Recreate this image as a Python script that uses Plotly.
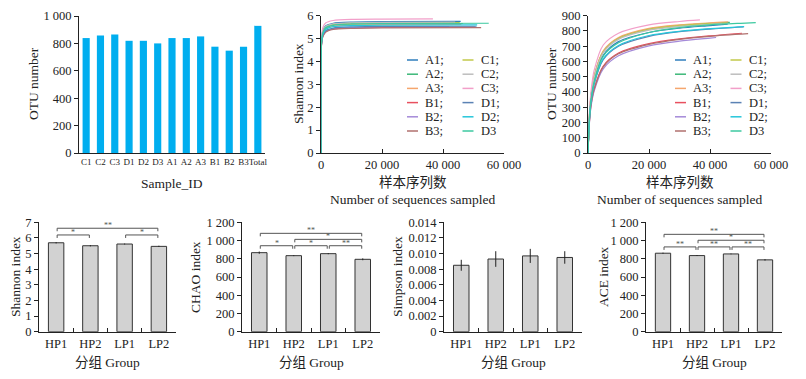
import plotly.graph_objects as go

# ---------------- data ----------------
sample_ids = ['C1', 'C2', 'C3', 'D1', 'D2', 'D3', 'A1', 'A2', 'A3', 'B1', 'B2', 'B3', 'Total']
otu_counts = [839, 858, 865, 819, 819, 800, 839, 839, 851, 776, 747, 776, 928]

curve_names = ['A1', 'A2', 'A3', 'B1', 'B2', 'B3', 'C1', 'C2', 'C3', 'D1', 'D2', 'D3']
curve_colors = ['#2f7ebc', '#3cb878', '#f5a66d', '#e8505f', '#a58ad8', '#b0706e',
                '#c2c84a', '#bdbdbd', '#f29fc9', '#5b82b4', '#26c6da', '#3cc9a0']

# OTU rarefaction curves (sequences sampled, OTU number)
otu_x = [
    [0, 500, 1000, 2000, 5000, 10000, 20000, 30000, 40000, 45800],
    [0, 500, 1000, 2000, 5000, 10000, 20000, 30000, 40000, 46500],
    [0, 500, 1000, 2000, 5000, 10000, 20000, 30000, 40000, 46000],
    [0, 500, 1000, 2000, 5000, 10000, 20000, 30000, 40000, 50500],
    [0, 500, 1000, 2000, 5000, 10000, 20000, 30000, 40000, 42000],
    [0, 500, 1000, 2000, 5000, 10000, 20000, 30000, 40000, 52500],
    [0, 500, 1000, 2000, 5000, 10000, 20000, 30000, 40000, 45500],
    [0, 500, 1000, 2000, 5000, 10000, 20000, 30000, 40000, 44000],
    [0, 500, 1000, 2000, 5000, 10000, 20000, 30000, 36700],
    [0, 500, 1000, 2000, 5000, 10000, 20000, 30000, 40000, 51000],
    [0, 500, 1000, 2000, 5000, 10000, 20000, 30000, 40000, 51200],
    [0, 500, 1000, 2000, 5000, 10000, 20000, 30000, 40000, 50000, 55000],
]
otu_y = [
    [0, 240, 360, 480, 640, 730, 790, 818, 835, 845],
    [0, 250, 375, 500, 665, 752, 812, 836, 850, 856],
    [0, 255, 380, 505, 670, 757, 817, 840, 853, 859],
    [0, 215, 320, 420, 570, 655, 717, 748, 768, 785],
    [0, 205, 305, 405, 552, 637, 702, 733, 753, 757],
    [0, 212, 315, 415, 565, 650, 712, 745, 765, 782],
    [0, 250, 372, 497, 662, 750, 810, 835, 848, 852],
    [0, 248, 370, 493, 658, 745, 805, 830, 844, 848],
    [0, 275, 405, 540, 708, 785, 840, 862, 872],
    [0, 228, 338, 450, 612, 700, 765, 795, 812, 826],
    [0, 230, 340, 455, 618, 705, 770, 798, 815, 828],
    [0, 235, 350, 465, 635, 722, 790, 822, 840, 850, 854],
]

# Shannon rarefaction curves
shannon_x = [
    [0, 150, 600, 1500, 4000, 10000, 20000, 45800],
    [0, 150, 600, 1500, 4000, 10000, 20000, 46500],
    [0, 150, 600, 1500, 4000, 10000, 20000, 46000],
    [0, 150, 600, 1500, 4000, 10000, 20000, 50500],
    [0, 150, 600, 1500, 4000, 10000, 20000, 42000],
    [0, 150, 600, 1500, 4000, 10000, 20000, 52500],
    [0, 150, 600, 1500, 4000, 10000, 20000, 45500],
    [0, 150, 600, 1500, 4000, 10000, 20000, 44000],
    [0, 150, 600, 1500, 4000, 10000, 20000, 36700],
    [0, 150, 600, 1500, 4000, 10000, 20000, 51000],
    [0, 150, 600, 1500, 4000, 10000, 20000, 51200],
    [0, 150, 600, 1500, 4000, 10000, 20000, 55000],
]
shannon_y = [
    [0, 4.85, 5.35, 5.55, 5.67, 5.72, 5.74, 5.75],
    [0, 4.80, 5.26, 5.46, 5.58, 5.63, 5.65, 5.66],
    [0, 4.80, 5.22, 5.42, 5.54, 5.59, 5.61, 5.62],
    [0, 4.70, 5.10, 5.30, 5.42, 5.47, 5.49, 5.50],
    [0, 4.72, 5.12, 5.32, 5.44, 5.49, 5.51, 5.52],
    [0, 4.70, 5.08, 5.28, 5.40, 5.45, 5.47, 5.48],
    [0, 4.85, 5.30, 5.50, 5.62, 5.67, 5.69, 5.70],
    [0, 4.85, 5.32, 5.52, 5.64, 5.69, 5.71, 5.72],
    [0, 4.95, 5.48, 5.68, 5.79, 5.84, 5.85, 5.86],
    [0, 4.72, 5.14, 5.34, 5.46, 5.51, 5.53, 5.54],
    [0, 4.78, 5.20, 5.40, 5.52, 5.57, 5.59, 5.60],
    [0, 4.80, 5.27, 5.47, 5.59, 5.64, 5.66, 5.67],
]

groups = ['HP1', 'HP2', 'LP1', 'LP2']
shannon_mean = [5.69, 5.50, 5.61, 5.46]
shannon_err = [0.04, 0.04, 0.03, 0.04]
chao_mean = [867, 834, 856, 794]
chao_err = [12, 5, 6, 10]
simpson_mean = [0.0085, 0.0093, 0.0097, 0.0095]
simpson_err = [0.0007, 0.0010, 0.0009, 0.0008]
ace_mean = [861, 835, 853, 788]
ace_err = [6, 5, 4, 8]

# significance brackets: (from group index, to group index, level, label)
shannon_sig = [(0, 3, 6.62, '**'), (0, 1, 6.19, '*'), (2, 3, 6.19, '*')]
chao_sig = [(0, 3, 1079, '**'), (1, 3, 1013, '*'), (0, 1, 943, '*'), (1, 2, 943, '*'), (2, 3, 943, '**')]
simpson_sig = []
ace_sig = [(0, 3, 1068, '**'), (1, 3, 1003, '*'), (0, 1, 930, '**'), (1, 2, 930, '**'), (2, 3, 930, '**')]

simpson_ticks = [0, 0.002, 0.004, 0.006, 0.008, 0.010, 0.012, 0.014]
simpson_ticktext = ['0', '0.002', '0.004', '0.006', '0.008', '0.010', '0.012', '0.014']

# ---------------- layout helpers ----------------
W, H = 806, 379
FONT = "Liberation Serif, 'Noto Sans CJK SC', serif"
INK = '#222222'


def fx(p):
    return p / W


def fy(p):
    return 1 - p / H


def axis(**kw):
    d = dict(showline=True, linecolor=INK, linewidth=1, ticks='outside', ticklen=4,
             tickcolor=INK, tickwidth=1, showgrid=False, zeroline=False, automargin=False,
             tickfont=dict(size=12.5, color=INK, family=FONT), fixedrange=True)
    d.update(kw)
    return d


def label(text, px, py, size=13.5, angle=0, xanchor='center'):
    return dict(text=text, x=fx(px), y=fy(py), xref='paper', yref='paper', xanchor=xanchor,
                yanchor='middle', textangle=angle, showarrow=False, font=dict(size=size))


fig = go.Figure()
layout = {}
annotations = []
shapes = []

# ---- panel 1: OTU bar chart ----
fig.add_trace(go.Bar(x=sample_ids, y=otu_counts, marker=dict(color='#00aeef', line=dict(width=0)),
                     width=0.5, xaxis='x', yaxis='y', showlegend=False))
layout['xaxis'] = axis(domain=[fx(79), fx(265)], anchor='y', type='category', ticks='',
                       tickangle=0, tickfont=dict(size=9, color=INK, family=FONT))
layout['yaxis'] = axis(domain=[fy(153), fy(16)], anchor='x', range=[0, 1000], dtick=200,
                       tickformat=',d')
annotations.append(label('OTU number', 33, 84, angle=-90))
annotations.append(label('Sample_ID', 172, 183))

# ---- panel 2 & 3: rarefaction curves ----
for i, nm in enumerate(curve_names):
    fig.add_trace(go.Scatter(x=shannon_x[i], y=shannon_y[i], mode='lines', name=nm,
                             line=dict(color=curve_colors[i], width=1.2, shape='spline', smoothing=0.6),
                             xaxis='x2', yaxis='y2', showlegend=False))
    fig.add_trace(go.Scatter(x=otu_x[i], y=otu_y[i], mode='lines', name=nm,
                             line=dict(color=curve_colors[i], width=1.2, shape='spline', smoothing=0.8),
                             xaxis='x3', yaxis='y3', showlegend=False))

for k, (xa, ya, x0, x1, yr, dt, ylab, ytx) in enumerate([
        ('xaxis2', 'yaxis2', 321, 504, [0, 6], 1, 'Shannon index', 298),
        ('xaxis3', 'yaxis3', 588, 771, [0, 900], 100, 'OTU number', 551)]):
    n = k + 2
    layout[xa] = axis(domain=[fx(x0), fx(x1)], anchor='y%d' % n, range=[0, 60000], dtick=20000,
                      ticks='inside', tickformat=',d')
    layout[ya] = axis(domain=[fy(153), fy(15.7)], anchor='x%d' % n, range=yr, dtick=dt,
                      tickformat=',d')
    cx = (x0 + x1) / 2
    annotations.append(label(ylab, ytx, 84, angle=-90))
    annotations.append(label('样本序列数', cx, 182))
    annotations.append(label('Number of sequences sampled', cx, 199))

# two-column legends inside the curve panels
for lx in (407, 675):
    for i, nm in enumerate(curve_names):
        col, row = divmod(i, 6)
        ly = 60 + row * 14.2
        bx = lx + col * 55.5
        shapes.append(dict(type='line', xref='paper', yref='paper', x0=fx(bx), x1=fx(bx + 11),
                           y0=fy(ly), y1=fy(ly), line=dict(color=curve_colors[i], width=1.5)))
        txt = nm + (';' if i < len(curve_names) - 1 else '')
        annotations.append(label(txt, bx + 16, ly, size=12.5, xanchor='left'))

# ---- bottom panels: group bars with error bars ----
bottom = [
    (shannon_mean, shannon_err, shannon_sig, 39, 176, [0, 7], dict(dtick=1), 'Shannon index', 15),
    (chao_mean, chao_err, chao_sig, 242, 380, [0, 1200], dict(dtick=200, tickformat=',d'), 'CHAO index', 195),
    (simpson_mean, simpson_err, simpson_sig, 444, 582, [0, 0.014],
     dict(tickvals=simpson_ticks, ticktext=simpson_ticktext), 'Simpson index', 397),
    (ace_mean, ace_err, ace_sig, 646, 782, [0, 1200], dict(dtick=200, tickformat=',d'), 'ACE index', 603),
]
for j, (mean, err, sig, x0, x1, yr, yextra, ylab, ytx) in enumerate(bottom):
    n = j + 4
    xr, yrf = 'x%d' % n, 'y%d' % n
    fig.add_trace(go.Bar(x=groups, y=mean, width=0.45,
                         marker=dict(color='#d2d2d2', line=dict(color='#333333', width=1)),
                         error_y=dict(type='data', array=err, color='#222222', thickness=1, width=0),
                         xaxis=xr, yaxis=yrf, showlegend=False))
    layout['xaxis%d' % n] = axis(domain=[fx(x0), fx(x1)], anchor=yrf, type='category',
                                 ticks='inside', tickson='boundaries', ticklen=4, tickangle=0,
                                 tickfont=dict(size=12.5, color=INK, family=FONT))
    layout['yaxis%d' % n] = axis(domain=[fy(331.7), fy(222.3)], anchor=xr, range=yr, **yextra)
    annotations.append(label(ylab, ytx, 277, angle=-90))
    annotations.append(label('分组 Group', (x0 + x1) / 2, 362))
    tick = (yr[1] - yr[0]) * 3 / 109.4
    for (a, b, lvl, lab) in sig:
        xa_, xb_ = a + 0.03, b - 0.03
        for seg in ((xa_, lvl, xb_, lvl), (xa_, lvl - tick, xa_, lvl), (xb_, lvl - tick, xb_, lvl)):
            shapes.append(dict(type='line', xref=xr, yref=yrf, x0=seg[0], y0=seg[1], x1=seg[2],
                               y1=seg[3], line=dict(color='#555555', width=1)))
        annotations.append(dict(text=lab, x=(a + b) / 2, y=lvl, xref=xr, yref=yrf, xanchor='center',
                                yanchor='bottom', yshift=-4, showarrow=False,
                                font=dict(size=8, color='#555555')))

fig.update_layout(
    width=W, height=H,
    autosize=False,
    margin=dict(l=0, r=0, t=0, b=0, pad=0, autoexpand=False),
    paper_bgcolor='white', plot_bgcolor='white',
    font=dict(family=FONT, color=INK, size=12.5),
    separators='. ',
    bargap=0.5,
    annotations=annotations,
    shapes=shapes,
    showlegend=False,
    hovermode=False,
    **layout,
)

fig.write_html('out.html', config={'responsive': False, 'displayModeBar': False, 'staticPlot': True},
               post_script="document.body.style.margin='0';document.body.style.overflow='hidden';")
